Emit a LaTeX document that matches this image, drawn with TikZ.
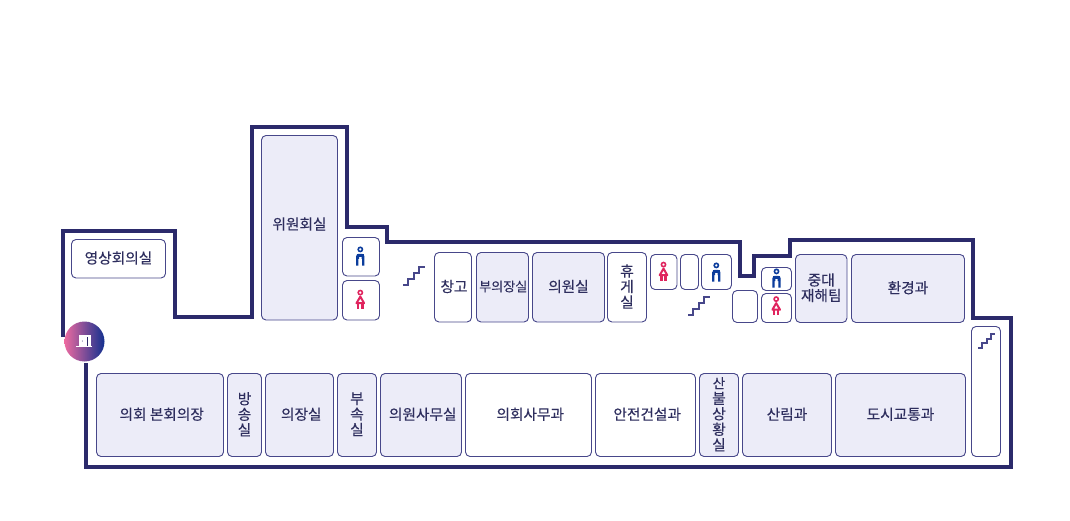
\documentclass[tikz,border=0pt]{standalone}
\usepackage{fontspec}
\setmainfont[FakeBold=0.25]{Noto Sans CJK KR}
\definecolor{navy}{HTML}{2B2A6B}
\definecolor{edge}{HTML}{47478A}
\definecolor{fillroom}{HTML}{ECECF8}
\definecolor{ink}{HTML}{2E2E5E}
\definecolor{manblue}{HTML}{0B3C9C}
\definecolor{womanred}{HTML}{E0245E}
\definecolor{doorpink}{HTML}{EC6AA0}
\definecolor{doorblue}{HTML}{12308F}
\tikzset{x=1pt,y=-1pt,
  room/.style={draw=edge,line width=0.9pt,rounded corners=4.5pt,fill=fillroom,text=ink,font=\fontsize{14.7}{15.5}\selectfont,align=center,inner sep=0pt},
  plain/.style={room,fill=white},
  wall/.style={draw=navy,line width=3.4pt,miter limit=10},
  stairline/.style={draw=edge,line width=2pt},
}
\newcommand{\roombox}[7][room]{% style,name,x1,y1,x2,y2,text
  \path[#1] (#3,#4) rectangle (#5,#6);
  \node[#1,draw=none,fill=none,rounded corners=0pt] (#2) at ({(#3+#5)/2},{(#4+#6)/2-0.8}) {#7};
}
\newcommand{\nudge}{\hspace*{3.5pt}}
\newcommand{\manicon}[2]{%
  \begin{scope}[shift={(#1,#2)}]
    \draw[manblue,line width=1.6pt] (0,-6.6) circle (2.1);
    \draw[manblue,line width=2.2pt,rounded corners=1.5pt] (-3,9.5) -- (-3,-1) -- (3,-1) -- (3,9.5);
    \fill[manblue] (-3.5,-1.5) rectangle (-1.2,3) (1.2,-1.5) rectangle (3.5,3);
    \fill[manblue] (-3.5,-2) rectangle (3.5,0.6);
  \end{scope}}
\newcommand{\womanicon}[2]{%
  \begin{scope}[shift={(#1,#2)}]
    \draw[womanred,line width=1.6pt] (0,-7.4) circle (2.1);
    \draw[womanred,line width=2pt,line join=round] (0,-3.4) -- (-3.8,3.2) -- (3.8,3.2) -- cycle;
    \draw[womanred,line width=2.3pt] (-2.1,3.2) -- (-2.1,8.5) (2.1,3.2) -- (2.1,8.5);
  \end{scope}}
\newcommand{\stairicon}[4]{% x,y,run,rise
  \draw[stairline,line join=miter] (#1,#2) -- ++(#3,0) -- ++(0,-#4) -- ++(#3,0) -- ++(0,-#4) -- ++(#3,0) -- ++(0,-#4) -- ++(#3,0);}
\begin{document}
\begin{tikzpicture}
\useasboundingbox (0,0) rectangle (1070,521);
\path[fill=white] (0,0) rectangle (1070,521);
% outer walls
\draw[wall] (63,337) -- (63,231) -- (175,231) -- (175,317) -- (252,317) -- (252,127) -- (347,127) -- (347,227) -- (387,227) -- (387,242) -- (740,242) -- (740,276) -- (754,276) -- (754,256) -- (790,256) -- (790,240) -- (973,240) -- (973,318) -- (1011,318) -- (1011,467) -- (86,467) -- (86,363);
% upper rooms
\roombox[plain]{video}{71.5}{239.5}{165.5}{278}{영상회의실}
\path[room] (261.5,135.5) rectangle (337.5,320);
\node[room,draw=none,fill=none,rounded corners=0pt] (committee) at (299.5,224) {위원회실};
\roombox[plain]{wcm1}{342.5}{237.5}{379.5}{276}{}
\roombox[plain]{wcw1}{342.5}{280.5}{379.5}{320}{}
\roombox[plain]{store}{434.5}{252.5}{471.5}{322}{\hspace*{2pt}창고}
\roombox{vice}{476.5}{252.5}{528.5}{322}{\fontsize{13.1}{14}\selectfont\hspace*{1.5pt}부의장실}
\roombox{member}{532.5}{252.5}{604.5}{322}{의원실}
\roombox[plain]{lounge}{607.5}{252.5}{646.5}{322}{휴\\게\\실}
\roombox[plain]{wcw2}{650.5}{254.5}{677}{289.5}{}
\roombox[plain]{blankA}{680.5}{254.5}{698.5}{289.5}{}
\roombox[plain]{wcm2}{701.5}{254.5}{731.5}{289.5}{}
\roombox[plain]{blankB}{732.5}{290.5}{757.5}{322.5}{}
\roombox[plain]{wcm3}{761.5}{267.5}{791.5}{290.5}{}
\roombox[plain]{wcw3}{761.5}{293.5}{791.5}{322.5}{}
\roombox{safety}{795.5}{254.5}{847}{322.5}{중대\\재해팀}
\roombox{env}{851.5}{254.5}{964.5}{322.5}{환경과}
% lower rooms
\roombox{plenary}{96.5}{373.5}{223.5}{456.5}{\nudge 의회 본회의장}
\roombox{broadcast}{227.5}{373.5}{261.5}{456.5}{방\\송\\실}
\roombox{chair}{265.5}{373.5}{333.5}{456.5}{\nudge 의장실}
\roombox{annex}{337.5}{373.5}{376.5}{456.5}{부\\속\\실}
\roombox{secretariat}{380.5}{373.5}{461.5}{456.5}{\nudge 의원사무실}
\roombox[plain]{office}{465.5}{373.5}{591.5}{456.5}{\nudge 의회사무과}
\roombox[plain]{construct}{595.5}{373.5}{695.5}{456.5}{\nudge 안전건설과}
\roombox{fire}{699.5}{373.5}{738.5}{456.5}{\fontsize{13.5}{15}\selectfont 산\\불\\상\\황\\실}
\roombox{forest}{742.5}{373.5}{831.5}{456.5}{산림과}
\roombox{city}{835.5}{373.5}{965.5}{456.5}{도시교통과}
\roombox[plain]{stairbox}{971.5}{326.5}{1000.5}{456.5}{}
% icons
\manicon{360.3}{256}
\womanicon{360.3}{300}
\womanicon{663.5}{272}
\manicon{716.3}{272}
\manicon{776.5}{278}
\womanicon{776.2}{306.5}
\stairicon{403}{285}{5.4}{6}
\stairicon{688}{315}{5.4}{6}
\stairicon{978}{347.5}{4.3}{4.4}
% entrance
\path[left color=doorpink,right color=doorblue] (84.5,341.5) circle (20);
\fill[white] (76,345.5) rectangle (92,347.2);
\fill[white] (78.5,335) rectangle (90.5,346);
\fill[navy] (87,336.5) rectangle (88.2,345.5);
\fill[navy] (82.4,341) circle (0.5);
\end{tikzpicture}
\end{document}
